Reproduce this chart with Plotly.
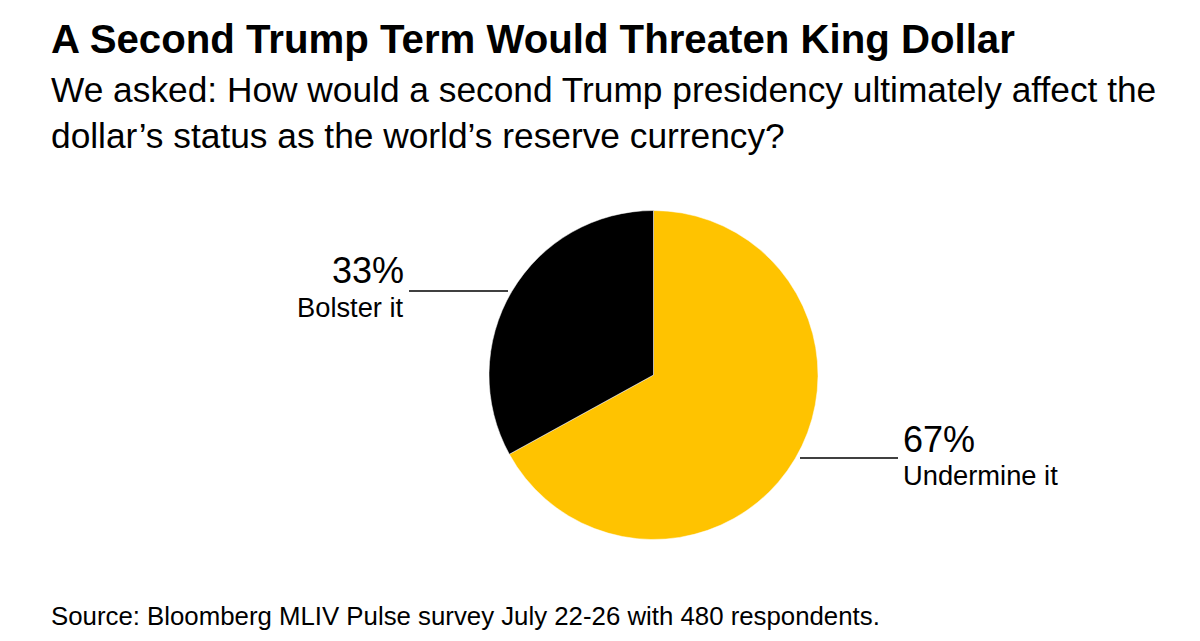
import plotly.graph_objects as go

# ---- data ----
categories = ["Undermine it", "Bolster it"]
shares = [67, 33]
colors = ["#FFC300", "#000000"]

title = "A Second Trump Term Would Threaten King Dollar"
subtitle = "We asked: How would a second Trump presidency ultimately affect the<br>dollar\u2019s status as the world\u2019s reserve currency?"
source = "Source: Bloomberg MLIV Pulse survey July 22-26 with 480 respondents."

W, H = 1200, 641
FONT = "Liberation Sans, Arial, Helvetica, sans-serif"

def px(x):
    return x / W

def py(y):
    return 1 - y / H

cx, cy, r = 653.5, 375.0, 164.5

fig = go.Figure(go.Pie(
    labels=categories,
    values=shares,
    marker=dict(colors=colors, line=dict(color="#ffffff", width=0.5)),
    sort=False,
    direction="clockwise",
    rotation=0,
    textinfo="none",
    hoverinfo="label+percent",
    showlegend=False,
    domain=dict(x=[px(cx - r), px(cx + r)], y=[py(cy + r), py(cy - r)]),
))

annotations = [
    dict(text="<b>" + title + "</b>", x=px(49), y=py(40), xanchor="left", yanchor="middle",
         font=dict(size=40.2, color="#000000", family=FONT), showarrow=False),
    dict(text=subtitle, x=px(49), y=py(113), xanchor="left", yanchor="middle",
         font=dict(size=35.3, color="#000000", family=FONT), showarrow=False, align="left"),
    dict(text=source, x=px(49), y=py(616), xanchor="left", yanchor="middle",
         font=dict(size=25.8, color="#000000", family=FONT), showarrow=False),
]

# label positions (right-aligned for left label, left-aligned for right label)
labels_cfg = [
    # (label x, pct y, name y, anchor, line x0, line x1, line y)
    (901, 439, 475, "left", 800, 898, 458),   # Undermine it
    (406, 270, 307, "right", 409, 508, 291),  # Bolster it
]
shapes = []
for cat, val, (lx, pcy, ny, anc, x0, x1, ly) in zip(categories, shares, labels_cfg):
    annotations.append(dict(text=f"{val}%", x=px(lx), y=py(pcy), xanchor=anc, yanchor="middle",
                            font=dict(size=36, color="#000000", family=FONT), showarrow=False))
    annotations.append(dict(text=cat, x=px(lx), y=py(ny), xanchor=anc, yanchor="middle",
                            font=dict(size=27.3, color="#000000", family=FONT), showarrow=False))
    shapes.append(dict(type="line", xref="paper", yref="paper", x0=px(x0), x1=px(x1),
                       y0=py(ly), y1=py(ly), line=dict(color="#000000", width=1.5)))

fig.update_layout(
    width=W, height=H,
    margin=dict(l=0, r=0, t=0, b=0),
    paper_bgcolor="#ffffff",
    plot_bgcolor="#ffffff",
    annotations=annotations,
    shapes=shapes,
)

fig.write_html("out.html")
